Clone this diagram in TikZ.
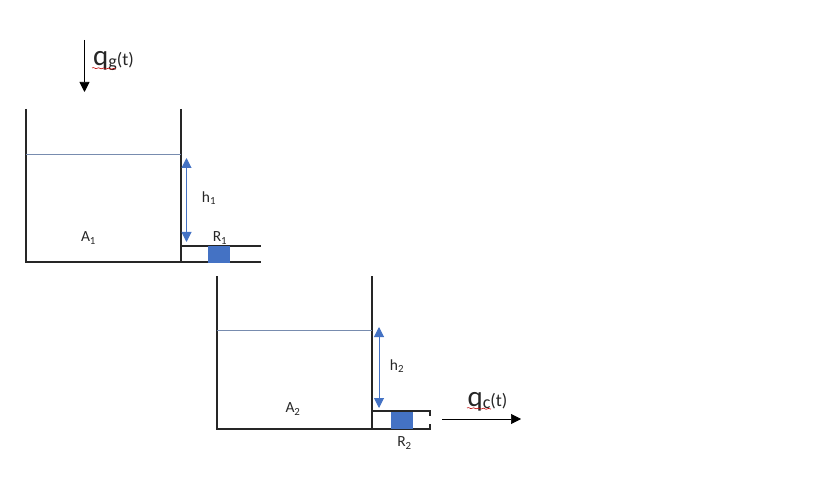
\documentclass[tikz,border=0pt]{standalone}
\usepackage{fontspec}
\setmainfont{Carlito}
\usetikzlibrary{arrows.meta,decorations.pathmorphing,positioning}
\definecolor{levelblue}{RGB}{68,114,196}
\definecolor{levelline}{RGB}{120,140,175}
\tikzset{
%Define standard arrow tip
    >={Triangle[length=10pt,width=10pt]},
%Define style for walls
    wall/.style={
           draw=black!85,
           line width=1.5pt},
    level/.style={
           draw=levelline,
           line width=1pt},
    plug/.style={
           rectangle,
           fill=levelblue,
           inner sep=0pt,
           minimum width=22pt,
           minimum height=17pt},
    lab/.style={
           inner sep=0pt,
           text=black!85,
           font=\fontsize{15.5}{15.5}\selectfont},
    flow/.style={
           inner sep=0pt,
           text=black!85,
           font=\fontsize{18}{18}\selectfont},
% Define arrow style
    pil/.style={
           ->,
           draw=black,
           line width=0.7pt},
    hgt/.style={
           <->,
           draw=levelblue,
           line width=1pt},
    wavy/.style={
           draw=red!75!black,
           line width=0.6pt,
           decorate,
           decoration={snake,amplitude=0.5pt,segment length=5pt}}
}
\newcommand{\flowtext}[2]{{\fontsize{29}{29}\selectfont q}\raisebox{-2pt}{#1}(#2)}

\begin{document}
\begin{tikzpicture}[x=1pt,y=-1pt]
 \useasboundingbox (0,0) rectangle (837,494);
%first tank
 \coordinate (tla) at (26,109);
 \coordinate (tlb) at (26,262);
 \coordinate (trb) at (181,262);
 \coordinate (tra) at (181,109);
 \coordinate (la) at (26,154.5);
 \coordinate (lb) at (181,154.5);
 \coordinate (pa) at (181,246);
 \coordinate (pb) at (261,246);
 \coordinate (pc) at (261,262);
 \draw[wall] (tla) -- (tlb) -- (pc);
 \draw[wall] (tra) -- (trb);
 \draw[wall] (pa) -- (pb);
 \draw[level] (la) -- (lb);
 \node[plug] (Ra) at (219,254.5) {};
 \coordinate (ha) at (186.5,158);
 \coordinate (hb) at (186.5,242);
 \draw[hgt] (ha) -- (hb);
 \node[lab] (hA) at (209,198) {h\textsubscript{1}};
 \node[lab] (Aa) at (88.5,238) {A\textsubscript{1}};
 \node[lab] (Rb) at (220,238) {R\textsubscript{1}};
%inflow
 \coordinate (qa) at (84.5,40);
 \coordinate (qb) at (84.5,92);
 \draw[pil] (qa) -- (qb);
 \node[flow] (qg) at (113.5,61.5) {\flowtext{g}{t}};
 \coordinate (wa) at (92,68);
 \coordinate (wb) at (116,69);
 \draw[wavy] (wa) -- (wb);
%second tank
 \coordinate (ula) at (217,276);
 \coordinate (ulb) at (217,429);
 \coordinate (urb) at (372,429);
 \coordinate (ura) at (372,276);
 \coordinate (ma) at (217,330);
 \coordinate (mb) at (372,330);
 \coordinate (sa) at (372,411);
 \coordinate (sb) at (430,411);
 \coordinate (sc) at (430,416);
 \coordinate (sd) at (430,424);
 \coordinate (se) at (430,429);
 \draw[wall] (ula) -- (ulb) -- (se) -- (sd);
 \draw[wall] (ura) -- (urb);
 \draw[wall] (sa) -- (sb) -- (sc);
 \draw[level] (ma) -- (mb);
 \node[plug] (Rc) at (402,420.5) {};
 \coordinate (va) at (379,327);
 \coordinate (vb) at (379,408);
 \draw[hgt] (va) -- (vb);
 \node[lab] (hB) at (397,366) {h\textsubscript{2}};
 \node[lab] (Ab) at (293,409) {A\textsubscript{2}};
 \node[lab] (Rd) at (404.5,443) {R\textsubscript{2}};
%outflow
 \coordinate (oa) at (442,419);
 \coordinate (ob) at (521,419);
 \draw[pil] (oa) -- (ob);
 \node[flow] (qc) at (487.5,401.5) {\flowtext{c}{t}};
 \coordinate (xa) at (467,408);
 \coordinate (xb) at (491,409);
 \draw[wavy] (xa) -- (xb);
\end{tikzpicture}
\end{document}
